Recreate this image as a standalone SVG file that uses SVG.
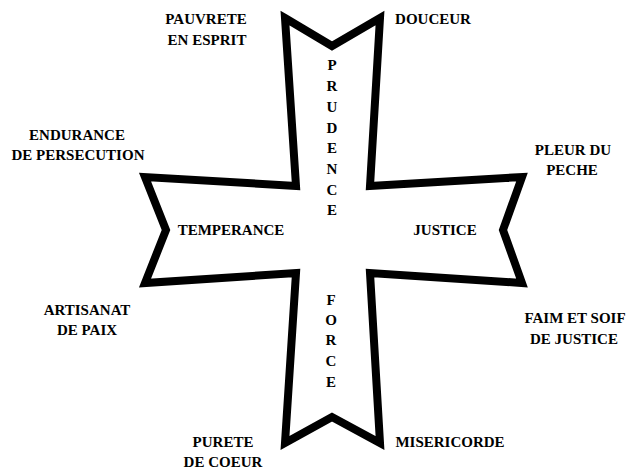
<svg xmlns="http://www.w3.org/2000/svg" width="628" height="470" viewBox="0 0 628 470">
<style>
.cross{fill:#fff;stroke:#000;stroke-width:8;stroke-linejoin:miter;stroke-miterlimit:10}
</style>
<rect width="628" height="470" fill="#fff"/>
<g id="cross">
<polygon class="cross" points="285,18 332,46 380,18 370,186 522,177 503,230 522,283 370,273 380,443 332,417 285,443 296,273 145,283 166,230 145,177 296,186"/>
</g>
<g font-family="Liberation Serif" font-weight="bold" font-size="15" fill="#000" text-anchor="middle">
<g id="prudence">
<text x="332" y="70">P</text>
<text x="332" y="91">R</text>
<text x="332" y="112">U</text>
<text x="332" y="133">D</text>
<text x="332" y="153">E</text>
<text x="332" y="174">N</text>
<text x="332" y="195">C</text>
<text x="332" y="215">E</text>
</g>
<g id="force">
<text x="331" y="305">F</text>
<text x="331" y="325">O</text>
<text x="331" y="345">R</text>
<text x="331" y="366">C</text>
<text x="331" y="387">E</text>
</g>
<g id="temperance"><text x="231" y="235">TEMPERANCE</text></g>
<g id="justice"><text x="445" y="235">JUSTICE</text></g>
<g id="pauvrete"><text x="206" y="24">PAUVRETE</text><text x="207" y="45">EN ESPRIT</text></g>
<g id="douceur"><text x="433" y="24">DOUCEUR</text></g>
<g id="endurance"><text x="77" y="140">ENDURANCE</text><text x="78" y="160">DE PERSECUTION</text></g>
<g id="pleur"><text x="573" y="155">PLEUR DU</text><text x="572" y="175">PECHE</text></g>
<g id="artisanat"><text x="87" y="315">ARTISANAT</text><text x="87" y="335">DE PAIX</text></g>
<g id="faim"><text x="575" y="323">FAIM ET SOIF</text><text x="574" y="344">DE JUSTICE</text></g>
<g id="purete"><text x="223" y="447">PURETE</text><text x="223" y="467">DE COEUR</text></g>
<g id="misericorde"><text x="450" y="447">MISERICORDE</text></g>
</g>
<g id="connectors"></g>
</svg>
